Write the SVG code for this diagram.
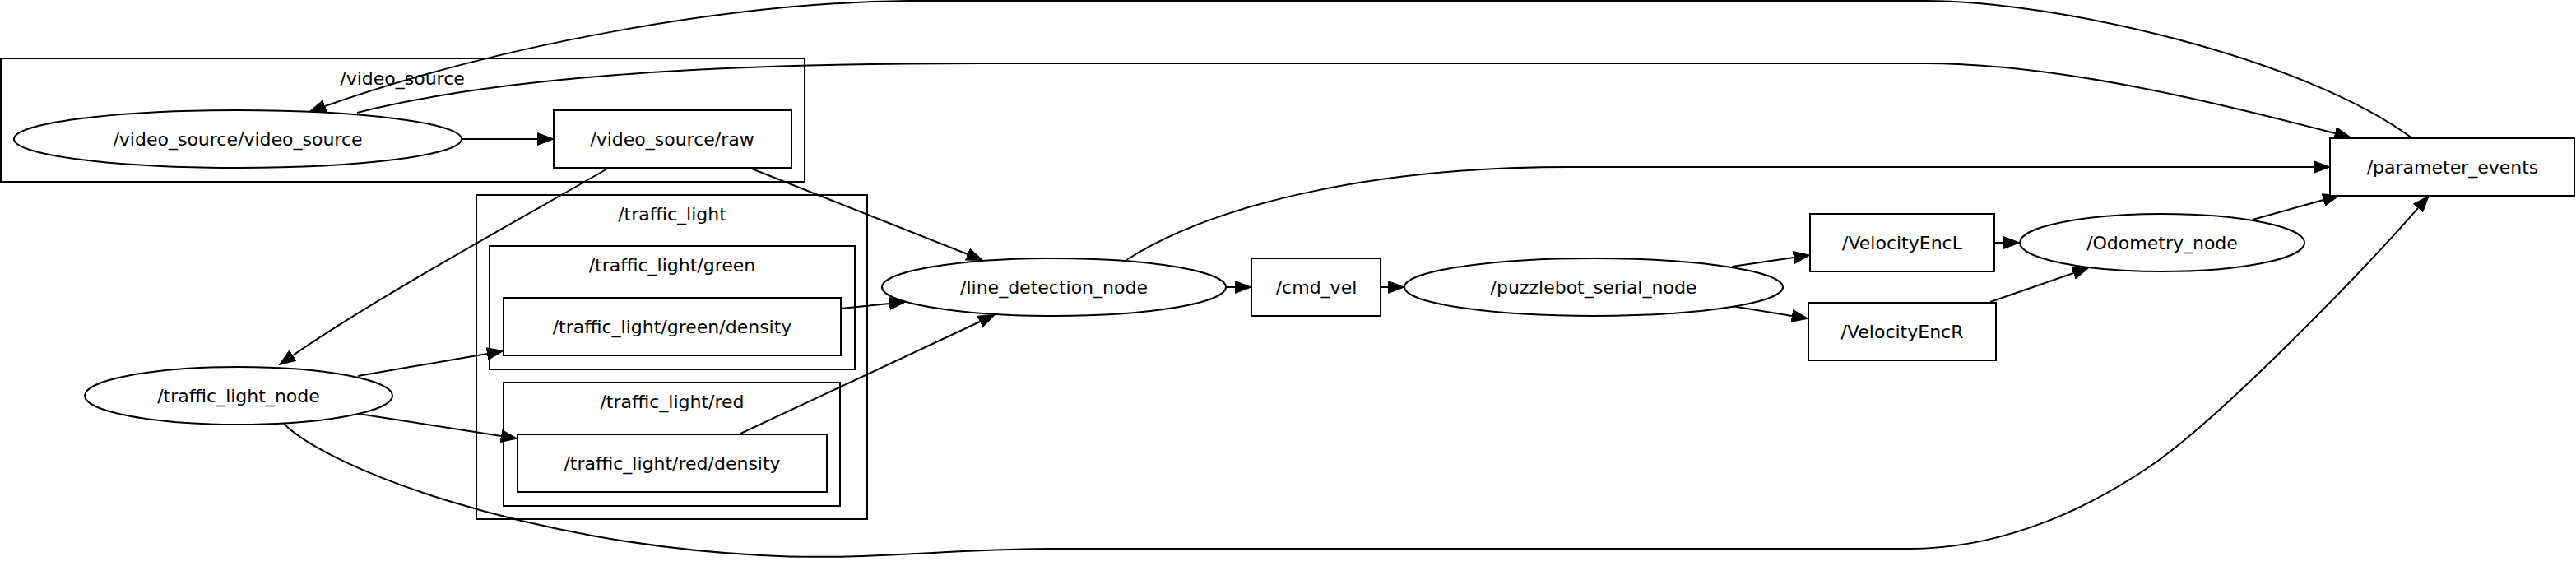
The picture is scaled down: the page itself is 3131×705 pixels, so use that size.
<svg xmlns="http://www.w3.org/2000/svg" width="3131" height="705" viewBox="0 0 3131 705">
<style>
  .bg { fill: #ffffff; }
  .cl { fill: none; stroke: #000; stroke-width: 2; }
  .nd { fill: #ffffff; stroke: #000; stroke-width: 2; }
  .tx { font-family: "DejaVu Sans", "Liberation Sans", sans-serif; font-size: 22px; fill: #000; text-anchor: middle; }
  .ed { fill: none; stroke: #000; stroke-width: 2; marker-end: url(#arr); }
</style>
<defs>
  <marker id="arr" markerUnits="userSpaceOnUse" markerWidth="22" markerHeight="18" viewBox="0 -9 22 18" refX="0" refY="0" orient="auto">
    <path d="M0,-7.5 L20,0 L0,7.5 z" fill="#000" stroke="#000" stroke-width="1"/>
  </marker>
</defs>
<rect class="bg" x="0" y="0" width="3131" height="705"/>

<g id="clusters">
  <g id="cluster_video_source">
    <rect class="cl" x="1" y="71" width="977" height="150"/>
    <text class="tx" x="489" y="103">/video_source</text>
  </g>
  <g id="cluster_traffic_light">
    <rect class="cl" x="579" y="237" width="475" height="394"/>
    <text class="tx" x="817" y="268">/traffic_light</text>
  </g>
  <g id="cluster_traffic_light_green">
    <rect class="cl" x="595" y="299" width="444" height="150"/>
    <text class="tx" x="817" y="330">/traffic_light/green</text>
  </g>
  <g id="cluster_traffic_light_red">
    <rect class="cl" x="612" y="465" width="409" height="150"/>
    <text class="tx" x="817" y="496">/traffic_light/red</text>
  </g>
</g>

<g id="connectors">
  <path id="e_vs_raw" class="ed" d="M561,169 L653,169"/>
  <path id="e_vs_param" class="ed" d="M434,137 C600,95 850,77 1193,77 L2339,77 C2500,77 2692,124 2838,162"/>
  <path id="e_param_vs" class="ed" d="M2932,168 C2800,70 2500,1 2339,1 L1104,1 C900,3 620,50 395,129"/>
  <path id="e_raw_tln" class="ed" d="M740,204 C640,262 460,360 356,432"/>
  <path id="e_raw_ldn" class="ed" d="M911,204 L1176,309"/>
  <path id="e_tln_green" class="ed" d="M435,457 L592,430"/>
  <path id="e_tln_red" class="ed" d="M436,503 L609,530"/>
  <path id="e_green_ldn" class="ed" d="M1022,375 L1081,369"/>
  <path id="e_red_ldn" class="ed" d="M900,527 L1191,391"/>
  <path id="e_ldn_cmd" class="ed" d="M1490,349 L1501,349"/>
  <path id="e_cmd_pbs" class="ed" d="M1678,349 L1687,349"/>
  <path id="e_ldn_param" class="ed" d="M1369,316 C1480,245 1680,203 1905,203 L2812,203"/>
  <path id="e_pbs_encl" class="ed" d="M2105,324 L2180,313"/>
  <path id="e_pbs_encr" class="ed" d="M2105,372 L2178,384"/>
  <path id="e_encl_odo" class="ed" d="M2424,295 L2435,295"/>
  <path id="e_encr_odo" class="ed" d="M2419,367 L2520,332"/>
  <path id="e_odo_param" class="ed" d="M2738,267 L2824,243"/>
  <path id="e_tln_param" class="ed" d="M345,515 C400,570 640,660 925,675 C1050,682 1150,667 1282,667 L2321,667 C2420,667 2520,630 2613,567 C2700,508 2875,326 2939,253"/>
</g>

<g id="n_video_source_video_source">
  <ellipse class="nd" cx="289" cy="169" rx="272" ry="35"/>
  <text class="tx" x="289" y="177">/video_source/video_source</text>
</g>
<g id="n_video_source_raw">
  <rect class="nd" x="673" y="134" width="289" height="70"/>
  <text class="tx" x="817" y="177">/video_source/raw</text>
</g>
<g id="n_traffic_light_green_density">
  <rect class="nd" x="612" y="362" width="410" height="70"/>
  <text class="tx" x="817" y="405">/traffic_light/green/density</text>
</g>
<g id="n_traffic_light_red_density">
  <rect class="nd" x="629" y="528" width="376" height="70"/>
  <text class="tx" x="817" y="571">/traffic_light/red/density</text>
</g>
<g id="n_traffic_light_node">
  <ellipse class="nd" cx="290" cy="481" rx="187" ry="35"/>
  <text class="tx" x="290" y="489">/traffic_light_node</text>
</g>
<g id="n_line_detection_node">
  <ellipse class="nd" cx="1281" cy="349" rx="209" ry="35"/>
  <text class="tx" x="1281" y="357">/line_detection_node</text>
</g>
<g id="n_cmd_vel">
  <rect class="nd" x="1521" y="314" width="157" height="70"/>
  <text class="tx" x="1600" y="357">/cmd_vel</text>
</g>
<g id="n_puzzlebot_serial_node">
  <ellipse class="nd" cx="1937" cy="349" rx="230" ry="35"/>
  <text class="tx" x="1937" y="357">/puzzlebot_serial_node</text>
</g>
<g id="n_VelocityEncL">
  <rect class="nd" x="2200" y="260" width="224" height="70"/>
  <text class="tx" x="2312" y="303">/VelocityEncL</text>
</g>
<g id="n_VelocityEncR">
  <rect class="nd" x="2198" y="368" width="228" height="70"/>
  <text class="tx" x="2312" y="411">/VelocityEncR</text>
</g>
<g id="n_Odometry_node">
  <ellipse class="nd" cx="2628" cy="295" rx="173" ry="35"/>
  <text class="tx" x="2628" y="303">/Odometry_node</text>
</g>
<g id="n_parameter_events">
  <rect class="nd" x="2832" y="168" width="297" height="70"/>
  <text class="tx" x="2981" y="211">/parameter_events</text>
</g>
</svg>
